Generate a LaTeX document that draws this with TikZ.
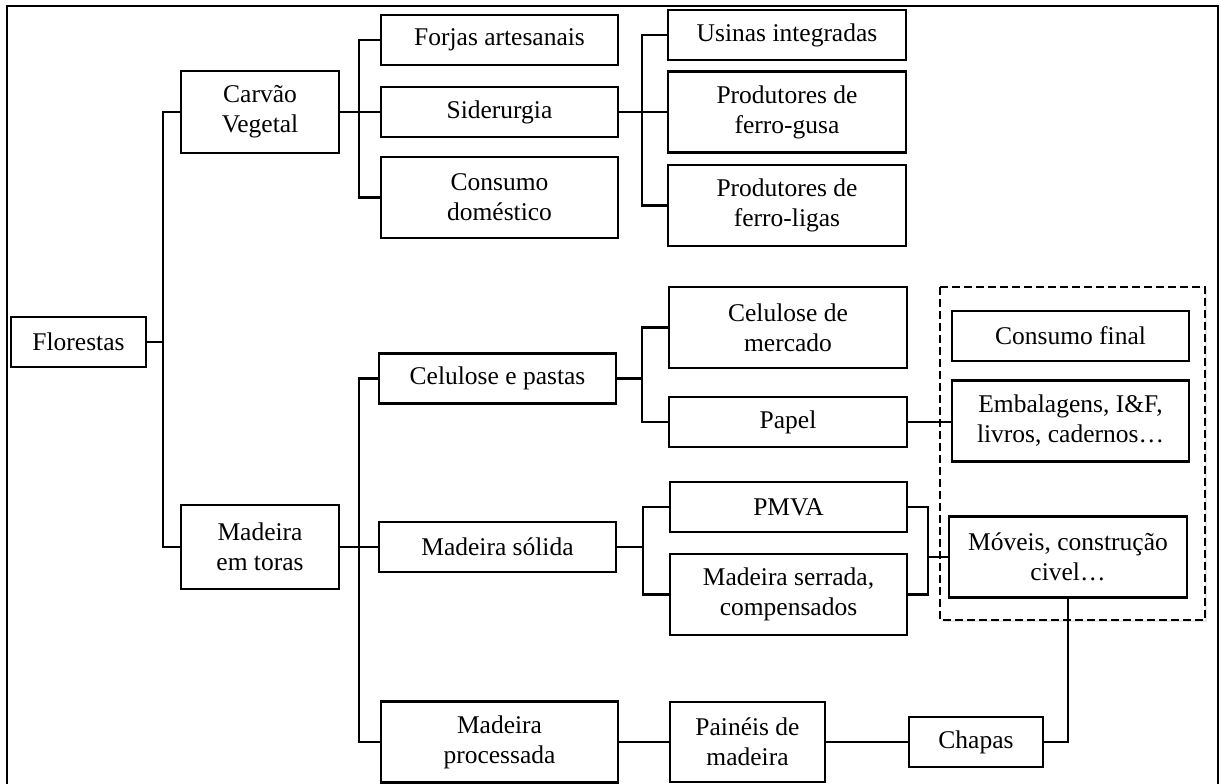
\documentclass[tikz,border=0pt]{standalone}
\usepackage{fontspec}
\setmainfont{Liberation Serif}
\usetikzlibrary{shadows}

\begin{document}
\begin{tikzpicture}[x=0.5pt,y=-0.5pt,
  box/.style={draw,line width=1.2pt,align=center,inner sep=0pt,fill=white,
    minimum width=118.5pt,minimum height=25pt,font=\fontsize{12.75}{15}\selectfont},
  tall/.style={minimum height=40.5pt},
  link/.style={line width=1.2pt}]
\useasboundingbox (0,0) rectangle (1221,783);
\draw[line width=0.8pt] (7,6) rectangle (1218,810);

%final consumption group
\draw[line width=1.1pt,dash pattern=on 4pt off 2pt,fill=white,
  drop shadow={opacity=0.2,shadow xshift=0.75pt,shadow yshift=-0.75pt}]
  (940,287) rectangle (1205,620);

%first levels
\node[box,minimum width=67.5pt](flor) at (78.5,342){Florestas};
\node[box,minimum width=79pt,minimum height=41pt](carv) at (260,112){Carvão\\Vegetal};
\node[box,minimum width=79pt,minimum height=42pt](mad) at (260,547){Madeira\\em toras};

%charcoal branch
\node[box](forj) at (499.5,40){Forjas artesanais};
\node[box](sid) at (499.5,112){Siderurgia};
\node[box,tall](dom) at (499.5,197.5){Consumo\\doméstico};
\node[box,minimum width=119pt](usin) at (787,35){Usinas integradas};
\node[box,tall,minimum width=119pt](gusa) at (787,112){Produtores de\\ferro-gusa};
\node[box,tall,minimum width=119pt](liga) at (787,205.5){Produtores de\\ferro-ligas};

%wood branch
\node[box](cel) at (497.5,378.5){Celulose e pastas};
\node[box](sol) at (497.5,547){Madeira sólida};
\node[box,tall](proc) at (499.5,742){Madeira\\processada};
\node[box,tall,minimum width=119pt](merc) at (788,327.5){Celulose de\\mercado};
\node[box,minimum width=119pt](pap) at (788,422){Papel};
\node[box](pmva) at (788.5,507){PMVA};
\node[box,tall](serr) at (788.5,594.5){Madeira serrada,\\compensados};
\node[box,minimum width=77.5pt,minimum height=40pt](pain) at (747.5,742){Painéis de\\madeira};
\node[box,minimum width=67pt](chap) at (976,742){Chapas};

%final consumption
\node[box](fin) at (1070.5,336){Consumo final};
\node[box,tall](emb) at (1070.5,421){Embalagens, I\&F,\\livros, cadernos…};
\node[box,tall,minimum width=119pt](mov) at (1068,557){Móveis, construção\\civel…};

%branch points
\coordinate (b1) at (163,342);
\coordinate (b2) at (359,112);
\coordinate (b3) at (642,112);
\coordinate (b4) at (359,547);
\coordinate (b5) at (642,378.5);
\coordinate (b6) at (643,547);
\coordinate (b7) at (928,557);

\draw[link] (flor.east)--(b1);
\draw[link] (carv.west)-|(b1);
\draw[link] (mad.west)-|(b1);

\draw[link] (carv.east)--(b2);
\draw[link] (forj.west)-|(b2);
\draw[link] (sid.west)--(b2);
\draw[link] (dom.west)-|(b2);

\draw[link] (sid.east)--(b3);
\draw[link] (usin.west)-|(b3);
\draw[link] (gusa.west)--(b3);
\draw[link] (liga.west)-|(b3);

\draw[link] (mad.east)--(b4);
\draw[link] (cel.west)-|(b4);
\draw[link] (sol.west)--(b4);
\draw[link] (proc.west)-|(b4);

\draw[link] (cel.east)--(b5);
\draw[link] (merc.west)-|(b5);
\draw[link] (pap.west)-|(b5);

\draw[link] (sol.east)--(b6);
\draw[link] (pmva.west)-|(b6);
\draw[link] (serr.west)-|(b6);

\draw[link] (pmva.east)-|(b7);
\draw[link] (serr.east)-|(b7);
\draw[link] (b7)--(mov.west);

\draw[link] (pap.east)--(pap.east -| emb.west);
\draw[link] (proc.east)--(pain.west);
\draw[link] (pain.east)--(chap.west);
\draw[link] (chap.east)-|(mov.south);
\end{tikzpicture}
\end{document}
